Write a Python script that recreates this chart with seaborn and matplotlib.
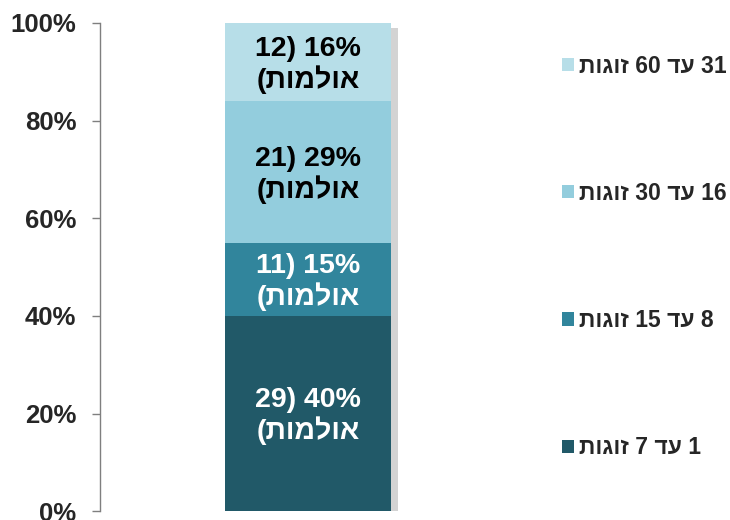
import matplotlib
matplotlib.use("Agg")
import matplotlib.pyplot as plt
import matplotlib.patheffects as pe
from matplotlib.patches import Patch
import seaborn as sns
import pandas as pd

# ---- data (logical Hebrew text) ----
categories = ["1 עד 7 זוגות", "8 עד 15 זוגות", "16 עד 30 זוגות", "31 עד 60 זוגות"]
shares = [40, 15, 29, 16]          # percent
halls = [29, 11, 21, 12]           # number of halls
hall_word = "אולמות"
yticks = [0, 20, 40, 60, 80, 100]
colors = ["#215968", "#31859C", "#93CDDD", "#B7DEE8"]
text_colors = ["white", "white", "black", "black"]


def is_heb(w):
    return any("\u0590" <= c <= "\u05FF" for c in w)


def visual(s):
    """Convert an RTL logical line into left-to-right visual order."""
    words = s.split(" ")[::-1]
    return " ".join(w[::-1] if is_heb(w) else w for w in words)


sns.set_theme(style="white")
plt.rcParams["font.family"] = ["Liberation Sans", "DejaVu Sans"]
plt.rcParams["font.weight"] = "bold"

fig = plt.figure(figsize=(7.3, 5.2), dpi=100)
ax = fig.add_axes([0.137, 0.017, 0.57, 0.939])

# cumulative tops, drawn from the tallest down
cum = []
t = 0
for v in shares:
    t += v
    cum.append(t)

df = pd.DataFrame({"x": [""] * 4, "top": cum, "cat": categories})
for i in range(3, -1, -1):
    sub = df.iloc[[i]]
    sns.barplot(data=sub, x="x", y="top", color=colors[i], saturation=1,
                width=1.0, ax=ax, linewidth=0, zorder=2 + (3 - i))

# shadow on the full bar
tall = ax.patches[0]
tall.set_path_effects([pe.SimplePatchShadow(offset=(5, -4), alpha=0.3,
                                            shadow_rgbFace="#707070"),
                       pe.Normal()])

# labels
bottom = 0
for i, v in enumerate(shares):
    mid = bottom + v / 2
    line1 = f"{halls[i]}) {v}%"
    line2 = "(" + hall_word[::-1]
    ax.text(0, mid - 0.6, line1 + "\n" + line2, ha="center", va="center",
            color=text_colors[i], fontsize=20.5, fontweight="bold",
            linespacing=1.15, zorder=10)
    bottom += v

ax.set_xlim(-1.258, 1.258)
ax.set_ylim(0, 100)
ax.set_yticks(yticks)
ax.set_yticklabels([f"{y}%" for y in yticks], fontsize=18.5, fontweight="bold")
ax.set_xlabel("")
ax.set_ylabel("")
ax.set_xticks([])
for s in ["top", "right", "bottom"]:
    ax.spines[s].set_visible(False)
ax.spines["left"].set_color("#7f7f7f")
ax.spines["left"].set_linewidth(1)
ax.tick_params(axis="y", left=True, length=6, width=1, color="#7f7f7f",
               pad=11, direction="out")

handles = [Patch(facecolor=colors[i], edgecolor="none") for i in range(3, -1, -1)]
labels = [visual(categories[i]) for i in range(3, -1, -1)]
leg = fig.legend(handles, labels, loc="upper left",
                 bbox_to_anchor=(0.770, 0.895), frameon=False,
                 borderaxespad=0, borderpad=0,
                 prop={"family": ["Liberation Sans", "DejaVu Sans"],
                       "weight": "bold", "size": 16.5},
                 handlelength=0.5, handleheight=0.5, handletextpad=0.25,
                 labelspacing=4.55)

fig.savefig("out.png", dpi=100)
